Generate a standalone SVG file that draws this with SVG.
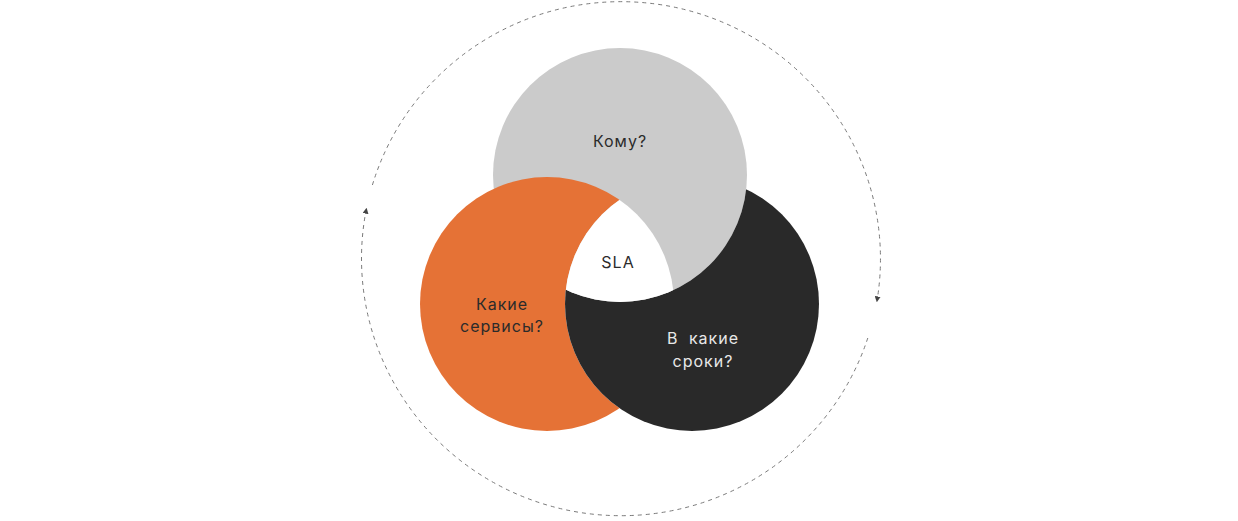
<svg xmlns="http://www.w3.org/2000/svg" width="1238" height="521" viewBox="0 0 1238 521">
  <style>
    .lbl { font-family: Inter, "Noto Sans", "DejaVu Sans", sans-serif; font-size: 16px; letter-spacing: 1px; }
    .dk { fill: #2b2b2b; }
    .lt { fill: #e8e8e8; }
    .cycle { fill: none; stroke: #7a7a7a; stroke-width: 1; stroke-dasharray: 4 4; }
  </style>
  <defs>
    <marker id="arrow" viewBox="0 0 10 10" refX="1" refY="5" markerWidth="6" markerHeight="6" markerUnits="userSpaceOnUse" orient="auto">
      <path d="M0,0 L10,5 L0,10 z" fill="#444444"/>
    </marker>
    <mask id="notDark" maskUnits="userSpaceOnUse" x="0" y="0" width="1238" height="521">
      <rect x="0" y="0" width="1238" height="521" fill="#fff"/>
      <circle cx="692" cy="304" r="127" fill="#000"/>
    </mask>
    <mask id="notGray" maskUnits="userSpaceOnUse" x="0" y="0" width="1238" height="521">
      <rect x="0" y="0" width="1238" height="521" fill="#fff"/>
      <circle cx="620" cy="175" r="127" fill="#000"/>
    </mask>
    <clipPath id="inGray"><circle cx="620" cy="175" r="127"/></clipPath>
    <clipPath id="inOrange"><circle cx="547" cy="304" r="127"/></clipPath>
  </defs>
  <rect width="1238" height="521" fill="#ffffff"/>

  <g id="connectors">
    <path class="cycle" d="M 372.4 185 A 259.5 257.2 0 0 1 877.6 297" marker-end="url(#arrow)"/>
    <path class="cycle" d="M 867.8 338 A 259.5 257.2 0 0 1 365.6 213" marker-end="url(#arrow)"/>
  </g>

  <g id="node-komu">
    <circle cx="620" cy="175" r="127" fill="#cbcbcb"/>
    <text class="lbl dk" x="620" y="147" text-anchor="middle">Кому?</text>
  </g>

  <g id="node-servisy">
    <circle cx="547" cy="304" r="127" fill="#e57236" mask="url(#notDark)"/>
    <text class="lbl dk" x="502" y="310" text-anchor="middle">Какие</text>
    <text class="lbl dk" x="502" y="332" text-anchor="middle">сервисы?</text>
  </g>

  <g id="node-sroki">
    <circle cx="692" cy="304" r="127" fill="#292929" mask="url(#notGray)"/>
    <text class="lbl lt" x="703" y="344" text-anchor="middle" word-spacing="5">В какие</text>
    <text class="lbl lt" x="703" y="367" text-anchor="middle">сроки?</text>
  </g>

  <g id="node-sla">
    <g clip-path="url(#inGray)">
      <circle cx="692" cy="304" r="127" fill="#ffffff" clip-path="url(#inOrange)"/>
    </g>
    <text class="lbl dk" x="618" y="268" text-anchor="middle">SLA</text>
  </g>
</svg>
